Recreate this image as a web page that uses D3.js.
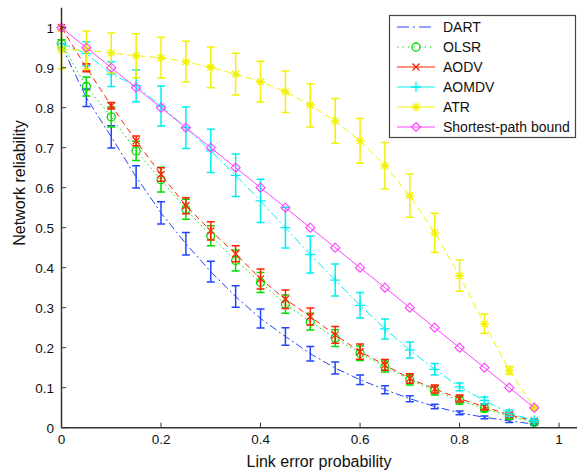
<!DOCTYPE html>
<html><head><meta charset="utf-8">
<script src="https://cdn.jsdelivr.net/npm/d3@7"></script>
<style>body{margin:0;background:#fff;}svg{display:block;font-family:"Liberation Sans",Arial,sans-serif;}</style>
</head><body>
<script>
const xValues = [0,0.05,0.1,0.15,0.2,0.25,0.3,0.35,0.4,0.45,0.5,0.55,0.6,0.65,0.7,0.75,0.8,0.85,0.9,0.95];
const dartMean = [0.955,0.825,0.727,0.627,0.537,0.46,0.39,0.328,0.273,0.228,0.185,0.149,0.12,0.095,0.0725,0.053,0.037,0.026,0.017,0.009];
const dartErr  = [0,0.022,0.028,0.028,0.028,0.028,0.026,0.027,0.024,0.022,0.018,0.015,0.012,0.01,0.0075,0.0055,0.0045,0.0035,0.004,0.003];
const olsrMean = [0.96,0.853,0.777,0.692,0.62,0.546,0.48,0.418,0.363,0.309,0.265,0.224,0.186,0.153,0.12,0.093,0.068,0.048,0.029,0.013];
const olsrErr  = [0.01,0.024,0.025,0.024,0.031,0.025,0.025,0.026,0.025,0.023,0.021,0.021,0.018,0.014,0.013,0.011,0.009,0.008,0.006,0.004];
const aodvMean = [1.0,0.9,0.805,0.717,0.633,0.555,0.492,0.435,0.372,0.321,0.278,0.232,0.19,0.157,0.123,0.097,0.073,0.052,0.032,0.017];
const aodvErr  = [0,0.01,0.008,0.012,0.017,0.02,0.023,0.02,0.025,0.023,0.021,0.021,0.019,0.0135,0.012,0.01,0.009,0.008,0.006,0.004];
const aomdvMean = [0.96,0.935,0.884,0.855,0.804,0.75,0.692,0.631,0.567,0.5,0.433,0.369,0.306,0.247,0.194,0.146,0.102,0.068,0.036,0.018];
const aomdvErr  = [0,0.03,0.031,0.04,0.05,0.052,0.054,0.053,0.054,0.051,0.046,0.04,0.032,0.025,0.02,0.0145,0.0095,0.009,0.008,0.005];
const atrMean = [0.945,0.944,0.937,0.93,0.925,0.915,0.901,0.884,0.865,0.84,0.806,0.767,0.717,0.655,0.58,0.487,0.38,0.26,0.143,0.05];
const atrErr  = [0.048,0.048,0.05,0.055,0.051,0.051,0.051,0.052,0.051,0.052,0.054,0.056,0.056,0.058,0.054,0.049,0.039,0.024,0.01,0.004];
const boundMean = [1,0.95,0.9,0.85,0.8,0.75,0.7,0.65,0.6,0.55,0.5,0.45,0.4,0.35,0.3,0.25,0.2,0.15,0.1,0.05];
const seriesNames = ["DART","OLSR","AODV","AOMDV","ATR","Shortest-path bound"];
const xTicks = [0,0.2,0.4,0.6,0.8,1];
const yTicks = [0,0.1,0.2,0.3,0.4,0.5,0.6,0.7,0.8,0.9,1];
const xLabel = "Link error probability";
const yLabel = "Network reliability";

const W = 577, H = 475;
const svg = d3.select("body").append("svg").attr("width", W).attr("height", H);
const x = d3.scaleLinear().domain([0, 1.036]).range([61.5, 577]);
const y = d3.scaleLinear().domain([0, 1.05]).range([427.7, 7.7]);

const styles = [
  {mean: dartMean, err: dartErr, color: "#2244ff", dash: "8,3,2,3", marker: "none"},
  {mean: olsrMean, err: olsrErr, color: "#00dd00", dash: "1.5,3", marker: "circle"},
  {mean: aodvMean, err: aodvErr, color: "#ff2200", dash: "6,4", marker: "x"},
  {mean: aomdvMean, err: aomdvErr, color: "#00f0f0", dash: "9,3,2,3", marker: "plus"},
  {mean: atrMean, err: atrErr, color: "#f2f200", dash: "7,4", marker: "star"},
  {mean: boundMean, err: null, color: "#ff44ff", dash: null, marker: "diamond"}
];

function drawMarker(g, type, cx, cy, color) {
  if (type === "circle") {
    g.append("circle").attr("cx", cx).attr("cy", cy).attr("r", 4).attr("fill", "none").attr("stroke", color).attr("stroke-width", 1.3);
  } else if (type === "x") {
    const s = 3.5;
    g.append("path").attr("d", `M${cx-s},${cy-s}L${cx+s},${cy+s}M${cx-s},${cy+s}L${cx+s},${cy-s}`).attr("stroke", color).attr("stroke-width", 1.3);
  } else if (type === "plus") {
    const s = 5;
    g.append("path").attr("d", `M${cx-s},${cy}L${cx+s},${cy}M${cx},${cy-s}L${cx},${cy+s}`).attr("stroke", color).attr("stroke-width", 1.3);
  } else if (type === "star") {
    const s = 4.5, d = 3.3;
    g.append("path").attr("d", `M${cx-s},${cy}L${cx+s},${cy}M${cx},${cy-s}L${cx},${cy+s}M${cx-d},${cy-d}L${cx+d},${cy+d}M${cx-d},${cy+d}L${cx+d},${cy-d}`).attr("stroke", color).attr("stroke-width", 1.4);
  } else if (type === "diamond") {
    const s = 4.5;
    g.append("path").attr("d", `M${cx},${cy-s}L${cx+s},${cy}L${cx},${cy+s}L${cx-s},${cy}Z`).attr("fill", "none").attr("stroke", color).attr("stroke-width", 1.2);
  }
}

const plot = svg.append("g");
styles.forEach(s => {
  const g = plot.append("g");
  const pts = xValues.map((xv, i) => [xv, s.mean[i], s.err ? s.err[i] : 0]);
  const line = d3.line().x(d => x(d[0])).y(d => y(d[1]));
  g.append("path").attr("d", line(pts)).attr("fill", "none").attr("stroke", s.color)
    .attr("stroke-width", 1).attr("stroke-dasharray", s.dash);
  if (s.err) {
    pts.forEach(d => {
      if (d[2] <= 0) return;
      const cx = x(d[0]), y1 = y(d[1] + d[2]), y2 = y(d[1] - d[2]);
      g.append("path").attr("d", `M${cx},${y1}L${cx},${y2}M${cx-4},${y1}L${cx+4},${y1}M${cx-4},${y2}L${cx+4},${y2}`)
        .attr("stroke", s.color).attr("stroke-width", 1.5).attr("fill", "none");
    });
  }
  pts.forEach(d => drawMarker(g, s.marker, x(d[0]), y(d[1]), s.color));
});

// axes
const axisColor = "#333";
const ax = svg.append("g");
ax.append("line").attr("x1", 61.5).attr("x2", 577).attr("y1", y(0)).attr("y2", y(0)).attr("stroke", axisColor).attr("stroke-width", 1.5);
ax.append("line").attr("x1", 61.5).attr("x2", 61.5).attr("y1", y(0)).attr("y2", y(1.05)).attr("stroke", axisColor).attr("stroke-width", 1.5);
xTicks.forEach(t => {
  ax.append("line").attr("x1", x(t)).attr("x2", x(t)).attr("y1", y(0)).attr("y2", y(0) - 5).attr("stroke", axisColor).attr("stroke-width", 1);
  ax.append("text").attr("x", x(t)).attr("y", 443.5).attr("text-anchor", "middle").attr("font-size", 13.5).attr("fill", "#111").text(String(t));
});
yTicks.forEach(t => {
  ax.append("line").attr("x1", 61.5).attr("x2", 66).attr("y1", y(t)).attr("y2", y(t)).attr("stroke", axisColor).attr("stroke-width", 1);
  ax.append("text").attr("x", 54).attr("y", y(t) + 5).attr("text-anchor", "end").attr("font-size", 13.5).attr("fill", "#111").text(String(t));
});
svg.append("text").attr("x", 319).attr("y", 467).attr("text-anchor", "middle").attr("font-size", 16).attr("fill", "#111").text(xLabel);
svg.append("text").attr("transform", "translate(25,183) rotate(-90)").attr("text-anchor", "middle").attr("font-size", 16).attr("fill", "#111").text(yLabel);

// legend
const lg = svg.append("g");
lg.append("rect").attr("x", 389.5).attr("y", 15.5).attr("width", 186).attr("height", 122).attr("fill", "#fff").attr("stroke", "#444").attr("stroke-width", 1.2);
styles.forEach((s, i) => {
  const cy = 27 + i * 20;
  lg.append("line").attr("x1", 397).attr("x2", 435).attr("y1", cy).attr("y2", cy).attr("stroke", s.color).attr("stroke-width", 1.2)
    .attr("stroke-dasharray", s.dash === "1.5,3" ? "1.5,4" : (s.dash === "8,3,2,3" ? "12,4,2,4" : null));
  drawMarker(lg, s.marker, 416, cy, s.color);
  lg.append("text").attr("x", 443).attr("y", cy + 5).attr("font-size", 14).attr("fill", "#111").text(seriesNames[i]);
});
</script>
</body></html>
